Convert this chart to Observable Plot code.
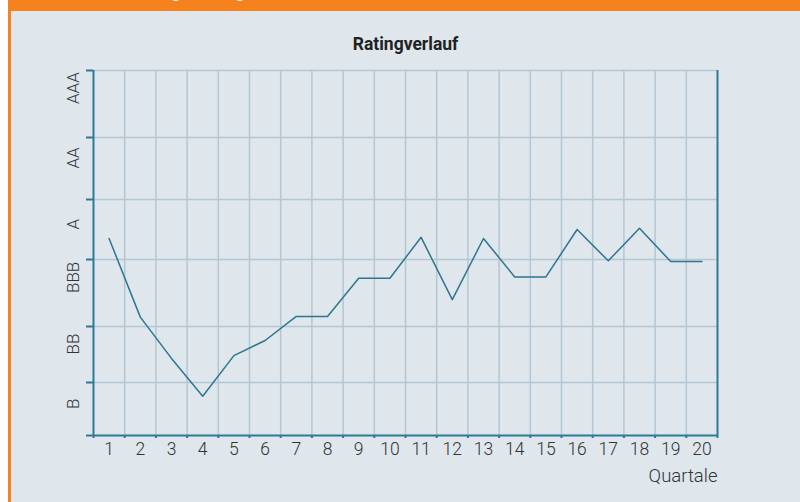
<!DOCTYPE html>
<html>
<head>
<meta charset="utf-8">
<script src="https://cdn.jsdelivr.net/npm/d3@7"></script>
<script src="https://cdn.jsdelivr.net/npm/@observablehq/plot@0.6"></script>
<style>
  html, body { margin: 0; padding: 0; background: #ffffff; }
  #wrap { position: relative; width: 800px; height: 502px; overflow: hidden; background: #ffffff; font-family: Roboto, "Liberation Sans", sans-serif; }
  #bar { position: absolute; left: 8px; top: 0; width: 792px; height: 11px; background: #f5821f; overflow: hidden; }
  #bar span { position: absolute; left: 129px; top: -14px; font-size: 15px; line-height: 15px; font-weight: bold; color: #ffffff; white-space: nowrap; }
  #lborder { position: absolute; left: 8px; top: 0; width: 3px; height: 502px; background: #f5821f; }
  #panel { position: absolute; left: 11px; top: 11px; width: 789px; height: 491px; background: #dfe6ec; }
  #chart { position: absolute; left: 0; top: 0; }
  #chart svg text.qlabel { letter-spacing: 0.6px; }
</style>
</head>
<body>
<div id="wrap">
  <div id="bar"><span>Ratingänderung</span></div>
  <div id="lborder"></div>
  <div id="panel"></div>
  <div id="chart"></div>
</div>
<script>
// ---- data ----
const quarters = [1, 2, 3, 4, 5, 6, 7, 8, 9, 10, 11, 12, 13, 14, 15, 16, 17, 18, 19, 20];
// rating score: 0 = bottom of B band, 1 = B/BB boundary, ... 6 = top of AAA band
const ratingScore = [3.35, 2.14, 1.43, 0.74, 1.48, 1.75, 2.15, 2.15, 2.72, 2.72,
                     3.37, 2.40, 3.35, 2.74, 2.74, 3.50, 2.98, 3.52, 2.97, 2.97];
const ratingLabels = ["B", "BB", "BBB", "A", "AA", "AAA"];
const ratingBounds = [0, 1, 2, 3, 4, 5, 6];
const titleText = "Ratingverlauf";
const xLabel = "Quartale";

// ---- layout config ----
const W = 800, H = 502;
const mTop = 70, mBottom = 67, mLeft = 93, mRight = 83;
const bandWeights = [53, 56, 67, 60, 62, 67]; // relative heights of the rating bands
const cumWeights = [0];
bandWeights.forEach((w, i) => cumWeights.push(cumWeights[i] + w));
const warp = d3.scaleLinear().domain(ratingBounds).range(cumWeights); // piecewise band warp

const teal = "#2d7b96";
const lineColor = "#2b7690";
const gridColor = "#b4c7d5";
const textColor = "#333333";

const data = quarters.map((q, i) => ({q, v: ratingScore[i]}));
const xBounds = d3.range(0.5, 21, 1);            // 0.5 .. 20.5
const xInner = xBounds.slice(1, -1);             // 1.5 .. 19.5
const bandCenters = ratingLabels.map((_, i) => i + 0.5);

const chart = Plot.plot({
  width: W,
  height: H,
  marginTop: mTop,
  marginBottom: mBottom,
  marginLeft: mLeft,
  marginRight: mRight,
  style: {background: "transparent", fontFamily: "Roboto, 'Liberation Sans', sans-serif", color: textColor, overflow: "visible"},
  x: {domain: [0.5, 20.5]},
  y: {type: "linear", transform: (v) => warp(v), domain: [0, cumWeights[cumWeights.length - 1]]},
  marks: [
    // grid
    Plot.ruleX(xInner, {y1: 0, y2: 6, stroke: gridColor, strokeWidth: 1.5}),
    Plot.ruleY(ratingBounds.slice(1), {x1: 0.5, x2: 20.5, stroke: gridColor, strokeWidth: 1.5}),
    // frame axes
    Plot.ruleY([0], {x1: 0.5, x2: 20.5, stroke: teal, strokeWidth: 2}),
    Plot.ruleX([0.5, 20.5], {y1: 0, y2: 6, stroke: teal, strokeWidth: 2}),
    // x boundary ticks
    Plot.axisX(xBounds, {tickSize: 3, tickFormat: () => "", stroke: teal, strokeWidth: 2, label: null}),
    // x tick labels
    Plot.axisX(quarters, {tickSize: 0, tickPadding: 7, fontSize: 17.5, fontWeight: 300, fill: textColor, label: null}),
    // y boundary ticks
    Plot.axisY(ratingBounds, {tickSize: 7, tickFormat: () => "", stroke: teal, strokeWidth: 2, label: null}),
    // y rating labels
    Plot.text(ratingLabels, {y: bandCenters, frameAnchor: "left", lineAnchor: "middle", rotate: -90, dx: -20,
      fontSize: 17, fontWeight: 300, fill: textColor}),
    // rating line
    Plot.line(data, {x: "q", y: "v", stroke: lineColor, strokeWidth: 1.5}),
    // x label
    Plot.text([xLabel], {frameAnchor: "bottom-right", lineAnchor: "middle", textAnchor: "end", dy: 41,
      fontSize: 18.5, fontWeight: 300, fill: textColor, className: "qlabel"}),
    // title
    Plot.text([titleText], {frameAnchor: "top", lineAnchor: "middle", dy: -26, fontSize: 17.5, fontWeight: "bold", fill: "#222"})
  ]
});
document.getElementById("chart").appendChild(chart);
</script>
</body>
</html>
